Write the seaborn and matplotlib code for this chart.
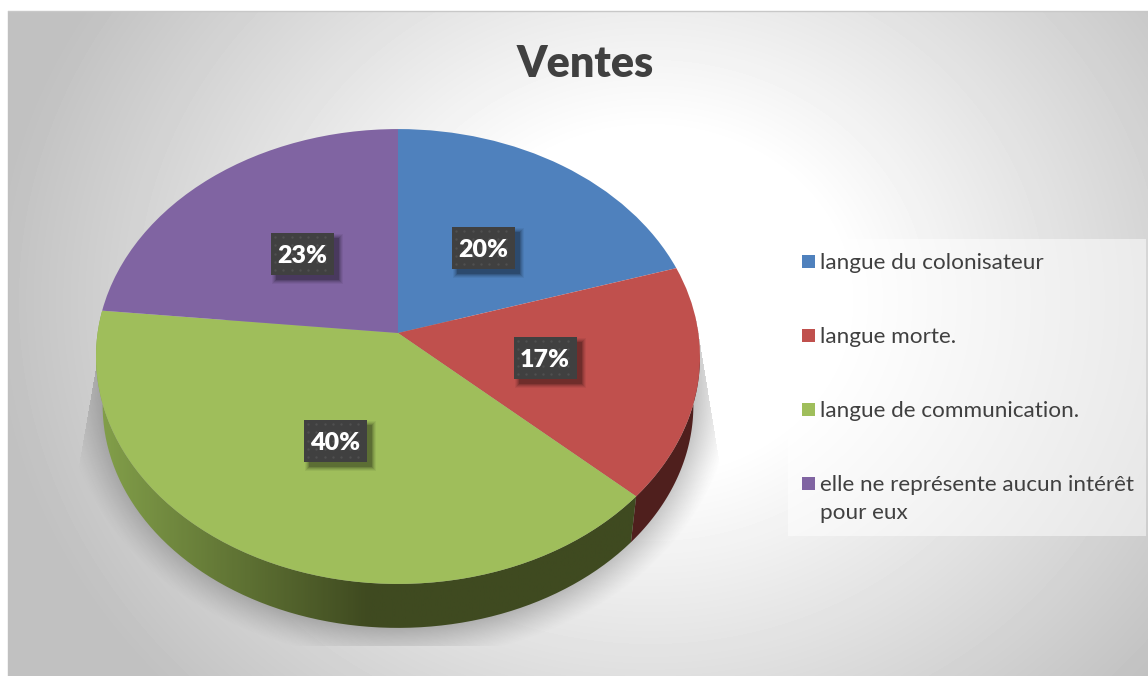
import numpy as np
import matplotlib
matplotlib.use("Agg")
import matplotlib.pyplot as plt
import matplotlib.transforms as mtransforms
from matplotlib.colors import LinearSegmentedColormap
from matplotlib.patches import Polygon, Rectangle
import seaborn as sns

# Chart data
title = "Ventes"
labels = ["langue du colonisateur", "langue morte.", "langue de communication.",
          "elle ne représente aucun intérêt\npour eux"]
values = [20.2, 16.6, 39.8, 23.4]
colors = ["#4f81bd", "#c0504d", "#9fbe5b", "#8064a2"]

sns.set_theme(style="white")
plt.rcParams["font.family"] = ["Lato", "DejaVu Sans"]
palette = sns.color_palette(colors)

W, H = 1148, 676
fig = plt.figure(figsize=(W / 100, H / 100), dpi=100)
ax = fig.add_axes([0, 0, 1, 1])


# Pie top is a unit circle seen in perspective
class TiltedDisc(mtransforms.Transform):
    input_dims = 2
    output_dims = 2

    def __init__(self, scale=1.0, cy=333.0):
        super().__init__()
        self.scale = scale
        self.cy = cy

    def transform_non_affine(self, pts):
        pts = np.asarray(pts, dtype=float)
        w = 1 + 0.1033 * pts[:, 1]
        x = 398 + self.scale * 300.4 * pts[:, 0] / w
        y = self.cy - self.scale * 225 * pts[:, 1] / w
        return np.column_stack([x, y])


top_disc = TiltedDisc()
bottom_disc = TiltedDisc(scale=0.978, cy=382.5)

wedges, _, autotexts = ax.pie(values, colors=palette, startangle=90, counterclock=False,
                              autopct="%1.0f%%", wedgeprops=dict(linewidth=0, zorder=5))
for w in wedges:
    w.set_transform(top_disc + ax.transData)
ax.set_aspect("auto")
ax.set_xlim(0, W)
ax.set_ylim(H, 0)
ax.axis("off")

# Background gradient of the panel
yy, xx = np.mgrid[0:H, 0:W]
dist = np.sqrt(((xx - 650) / 1.15) ** 2 + (yy - 300) ** 2)
shade = 255 - np.clip((dist - 170) / 400, 0, 1) * 62
ax.imshow(shade, cmap="gray", vmin=0, vmax=255, extent=(0, W, H, 0), aspect="auto",
          zorder=0, interpolation="bilinear")
ax.add_patch(Rectangle((0, 0), 8, H, fc="white", ec="none", zorder=1))
ax.add_patch(Rectangle((0, 0), W, 11, fc="white", ec="none", zorder=1))
ax.plot([8, 8], [11, H], color="#c0c0c0", lw=1, zorder=1)
ax.plot([8, W], [11, 11], color="#c8c8c8", lw=1, zorder=1)

# Soft shadow under the pie
r = np.sqrt(((xx - 398) / 336) ** 2 + ((yy - 385) / 275) ** 2)
alpha = np.clip((1 - r) / 0.15, 0, 1) ** 1.2 * 0.42
left_edge = 102 - (yy - 330) * 26 / 150
right_edge = 700 + (yy - 345) * 22 / 135
alpha[(xx < left_edge) | (xx > right_edge) | (yy > 645) | (yy < 320)] = 0
rgba = np.zeros((H, W, 4))
rgba[..., :3] = 0.25
rgba[..., 3] = alpha
ax.imshow(rgba, extent=(0, W, H, 0), aspect="auto", zorder=2, interpolation="bilinear")


# Side wall of the pie, from the slice angles
def wall_polygon(start, end):
    t = np.deg2rad(np.linspace(start, end, 80))
    rim = np.column_stack([np.sin(t), np.cos(t)])
    upper = top_disc.transform_non_affine(rim)
    lower = bottom_disc.transform_non_affine(rim)
    return np.vstack([upper, lower[::-1]])


edges = np.cumsum([0] + values) * 3.6
ax.add_patch(Polygon(wall_polygon(95, edges[2]), fc="#4f1f1d", ec="none", zorder=3))
green_wall = Polygon(wall_polygon(edges[2], edges[3]), fc="none", ec="none", zorder=3)
ax.add_patch(green_wall)
wall_cmap = LinearSegmentedColormap.from_list("wall", ["#83a04a", "#3f4a20", "#3f4a20"])
grad = ax.imshow(np.linspace(0, 1, 300)[None, :], cmap=wall_cmap, extent=(96, 640, 660, 300),
                 aspect="auto", zorder=3)
grad.set_clip_path(green_wall)

ax.set_xlim(0, W)
ax.set_ylim(H, 0)

# Percentage labels on dark boxes
label_centers = [(483, 248), (545, 358), (335, 441), (302, 254)]
for txt, (cx, cy) in zip(autotexts, label_centers):
    for grow, a in [(4, 0.05), (3, 0.07), (2, 0.09), (1, 0.12), (0, 0.16)]:
        ax.add_patch(Rectangle((cx - 31.5 + 5 - grow, cy - 21 + 5 - grow), 63 + 2 * grow, 42 + 2 * grow,
                               fc="black", ec="none", alpha=a, zorder=6))
    ax.add_patch(Rectangle((cx - 31.5, cy - 21), 63, 42, fc="#404040", ec="none", zorder=7))
    gx, gy = np.meshgrid(np.arange(cx - 27, cx + 31, 8.3), np.arange(cy - 17, cy + 20, 8.3))
    ax.scatter(gx.ravel(), gy.ravel(), s=3, color="#505050", linewidths=0, zorder=8)
    txt.set_position((cx, cy + 2))
    txt.set(color="white", fontweight="heavy", fontsize=18, ha="center", va="center", zorder=9)

# Title
ax.text(585, 64, title, fontsize=31, fontweight="heavy", color="#404040", ha="center", va="center", zorder=6)

# Legend panel
ax.add_patch(Rectangle((788, 239), 358, 297, fc="white", ec="none", alpha=0.5, zorder=4))
legend_rows = [262, 336, 410, 484]
for label, color, row in zip(labels, palette, legend_rows):
    ax.add_patch(Rectangle((802, row - 7), 13, 13, fc=color, ec="none", zorder=5))
    ax.text(820, row - 9, label, fontsize=16.2, color="#404040", ha="left", va="top",
            linespacing=1.5, zorder=5)

fig.savefig("out.png", dpi=100)
